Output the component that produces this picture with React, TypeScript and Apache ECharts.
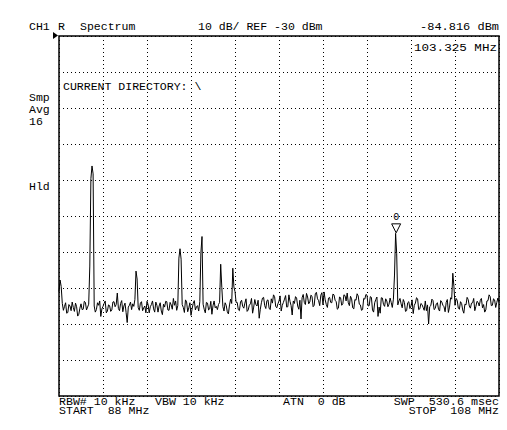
import React, { useEffect, useRef } from "react";
import * as echarts from "echarts";

// Sweep: 88 MHz to 108 MHz, 401 points (0.05 MHz step)
const startMHz = 88;
const stopMHz = 108;
const stepMHz = 0.05;

// Trace level in dBm for each sweep point
const traceDbm: number[] = [
  -101.0, -97.8, -99.6, -104.3, -106.2, -105.1, -104.1, -107.0, -106.8, -104.6,
  -105.0, -106.3, -103.9, -105.4, -106.5, -104.2, -105.2, -107.8, -107.3, -105.6,
  -104.4, -106.0, -105.9, -103.7, -104.0, -106.1, -105.3, -104.5, -93.9, -69.6,
  -66.1, -68.3, -105.0, -106.7, -106.0, -104.1, -104.8, -103.6, -107.9, -105.8,
  -105.1, -104.3, -103.6, -106.9, -106.4, -104.7, -104.9, -106.5, -106.1, -103.9,
  -103.8, -105.2, -104.6, -101.4, -105.7, -106.3, -104.3, -103.5, -106.6, -105.0,
  -104.2, -106.8, -109.6, -105.3, -104.8, -103.9, -106.0, -104.4, -105.1, -103.2,
  -95.3, -97.5, -105.4, -106.2, -104.2, -103.8, -106.3, -105.5, -105.0, -106.9,
  -103.7, -104.6, -106.9, -105.2, -104.6, -103.6, -105.8, -106.7, -103.9, -104.8,
  -106.7, -105.0, -104.1, -106.4, -107.4, -104.5, -105.3, -103.7, -103.8, -106.1,
  -106.2, -104.0, -104.7, -105.9, -102.9, -104.8, -103.6, -106.2, -104.9, -91.7,
  -89.1, -92.0, -104.6, -105.4, -106.8, -103.3, -103.9, -106.6, -105.5, -104.1,
  -107.6, -105.8, -104.3, -103.5, -106.1, -105.2, -104.9, -106.4, -103.8, -90.2,
  -85.7, -104.5, -105.9, -106.9, -104.0, -104.2, -106.1, -105.8, -103.7, -107.3,
  -104.9, -103.6, -105.5, -105.1, -106.0, -104.6, -104.0, -93.4, -99.8, -105.2,
  -106.4, -104.1, -104.8, -106.6, -107.2, -104.7, -103.1, -104.3, -94.5, -99.7,
  -101.0, -104.0, -104.0, -106.0, -106.3, -103.9, -103.4, -105.1, -105.6, -104.2,
  -103.0, -106.5, -106.1, -104.8, -104.4, -102.9, -107.0, -105.3, -103.2, -104.6,
  -105.0, -103.4, -108.4, -105.9, -104.1, -102.8, -102.6, -104.9, -105.7, -103.5,
  -103.3, -105.6, -106.0, -103.0, -104.2, -101.9, -102.4, -105.1, -105.5, -104.4,
  -103.6, -102.2, -106.4, -104.8, -104.0, -103.1, -102.1, -105.3, -105.2, -101.9,
  -103.7, -104.9, -107.5, -103.6, -104.3, -102.4, -102.8, -105.0, -105.9, -103.4,
  -108.6, -102.7, -101.8, -104.0, -104.6, -101.5, -102.5, -104.4, -103.9, -102.0,
  -102.3, -105.2, -104.8, -101.6, -101.2, -103.0, -103.5, -104.9, -102.0, -101.3,
  -104.7, -101.1, -103.3, -104.6, -105.4, -102.8, -102.6, -104.0, -104.1, -101.7,
  -101.9, -103.4, -103.8, -105.9, -105.6, -102.5, -102.7, -104.8, -104.4, -101.9,
  -102.1, -103.6, -101.4, -104.1, -104.9, -102.3, -103.0, -105.5, -105.8, -103.2,
  -103.4, -101.6, -102.2, -104.5, -104.7, -106.2, -106.0, -102.9, -103.1, -101.8,
  -102.0, -105.0, -104.9, -102.4, -102.6, -106.1, -106.7, -104.1, -103.2, -102.5,
  -107.9, -105.3, -107.0, -102.7, -102.8, -104.6, -105.1, -103.0, -103.6, -105.2,
  -104.5, -102.8, -104.0, -105.4, -103.1, -96.4, -84.816, -90.5, -104.7, -103.6,
  -102.9, -104.4, -105.5, -103.2, -104.0, -106.5, -106.3, -104.1, -103.8, -105.7,
  -105.0, -103.3, -107.1, -104.8, -104.2, -102.7, -103.0, -106.0, -105.8, -104.3,
  -104.6, -105.4, -106.2, -103.6, -106.3, -104.7, -110.0, -105.2, -104.9, -103.1,
  -103.5, -106.0, -105.7, -104.4, -104.1, -105.9, -106.4, -103.5, -103.9, -104.8,
  -105.2, -106.6, -104.0, -103.2, -106.8, -105.3, -102.7, -103.1, -95.9, -99.5,
  -104.8, -102.9, -103.4, -105.6, -105.9, -103.8, -104.3, -106.1, -107.0, -104.5,
  -104.7, -102.6, -103.2, -105.0, -105.6, -104.2, -104.1, -102.9, -106.3, -105.1,
  -103.7, -104.0, -105.0, -103.4, -102.9, -105.5, -104.6, -106.7, -106.1, -103.6,
  -103.5, -101.9, -102.4, -104.9, -104.8, -103.0, -103.3, -105.4, -104.0, -102.8,
  -104.0,
];

// Marker
const markerFreqMHz = 103.325;
const markerLevelDbm = -84.816;

// Scale
const refLevelDbm = -30;
const dbPerDiv = 10;
const divisions = 10;

// Annotation texts
const headerLeft = ["CH1", "R", "Spectrum"];
const headerCenter = "10 dB/ REF -30 dBm";
const markerLevelText = "-84.816 dBm";
const markerFreqText = "103.325 MHz";
const directoryText = "CURRENT DIRECTORY: \\";
const sideTexts = ["Smp", "Avg", "16", "Hld"];
const footerTop = ["RBW# 10 kHz", "VBW 10 kHz", "ATN  0 dB", "SWP  530.6 msec"];
const footerBottom = ["START  88 MHz", "STOP  108 MHz"];

const FAMILY = '"Liberation Mono", "DejaVu Sans Mono", monospace';

export default function App() {
  const ref = useRef<HTMLDivElement>(null);
  useEffect(() => {
    if (!ref.current) return;
    const chart = echarts.init(ref.current, undefined, { renderer: "svg" });
    const data = traceDbm.map((v, i) => [
      Math.round((startMHz + i * stepMHz) * 1000) / 1000,
      v,
    ]);
    const txt = (
      text: string,
      x: number,
      y: number,
      align = "left",
      size = 10.5,
      sx = 1.1
    ) => ({
      type: "text",
      x,
      y,
      scaleX: sx,
      z: 10,
      style: {
        text,
        font: `${size}px ${FAMILY}`,
        fill: "#000",
        textAlign: align,
        textVerticalAlign: "middle",
      },
    });
    const minDb = refLevelDbm - dbPerDiv * divisions;
    chart.setOption({
      animation: false,
      backgroundColor: "#fff",
      grid: {
        left: 59,
        right: 8,
        top: 36,
        bottom: 34,
        show: true,
        borderColor: "#000",
        borderWidth: 1.5,
        backgroundColor: "#fff",
      },
      xAxis: {
        type: "value",
        min: startMHz,
        max: stopMHz,
        interval: (stopMHz - startMHz) / divisions,
        axisLine: { show: false },
        axisTick: { show: false },
        axisLabel: { show: false },
        splitLine: {
          show: true,
          lineStyle: { color: "#000", width: 1, type: [1, 3] },
        },
      },
      yAxis: {
        type: "value",
        min: minDb,
        max: refLevelDbm,
        interval: dbPerDiv,
        axisLine: { show: false },
        axisTick: { show: false },
        axisLabel: { show: false },
        splitLine: {
          show: true,
          lineStyle: { color: "#000", width: 1, type: [1, 3] },
        },
      },
      series: [
        {
          type: "line",
          data,
          showSymbol: false,
          symbol: "none",
          lineStyle: { color: "#000", width: 1 },
          z: 5,
          markPoint: {
            symbol: "triangle",
            symbolRotate: 180,
            symbolSize: [9, 9],
            symbolOffset: [0, -5],
            itemStyle: { color: "#fff", borderColor: "#000", borderWidth: 1 },
            label: {
              show: true,
              position: "top",
              distance: 1,
              formatter: "0",
              color: "#000",
              fontFamily: FAMILY,
              fontSize: 10,
            },
            data: [{ coord: [markerFreqMHz, markerLevelDbm] }],
          },
        },
      ],
      graphic: [
        txt(headerLeft[0], 29, 27),
        txt(headerLeft[1], 58, 27),
        txt(headerLeft[2], 80, 27),
        txt(headerCenter, 198, 27),
        txt(markerLevelText, 499, 27, "right", 10.5, 1.14),
        txt(markerFreqText, 497, 48, "right", 10.5, 1.2),
        txt(directoryText, 63, 87),
        txt(sideTexts[0], 29, 98),
        txt(sideTexts[1], 29, 110),
        txt(sideTexts[2], 29, 122),
        txt(sideTexts[3], 29, 187),
        txt(footerTop[0], 59, 402, "left", 10, 1.16),
        txt(footerTop[1], 155, 402, "left", 10, 1.16),
        txt(footerTop[2], 283, 402, "left", 10, 1.16),
        txt(footerTop[3], 499, 402, "right", 10, 1.17),
        txt(footerBottom[0], 59, 411.5, "left", 10, 1.16),
        txt(footerBottom[1], 499, 411.5, "right", 10, 1.16),
        {
          type: "polygon",
          z: 10,
          shape: { points: [[53, 32], [53, 39], [58, 35.5]] },
          style: { fill: "#000" },
        },
      ],
    });
    return () => chart.dispose();
  }, []);
  return (
    <div
      ref={ref}
      style={{ position: "fixed", left: 0, top: 0, width: 507, height: 430 }}
    />
  );
}
